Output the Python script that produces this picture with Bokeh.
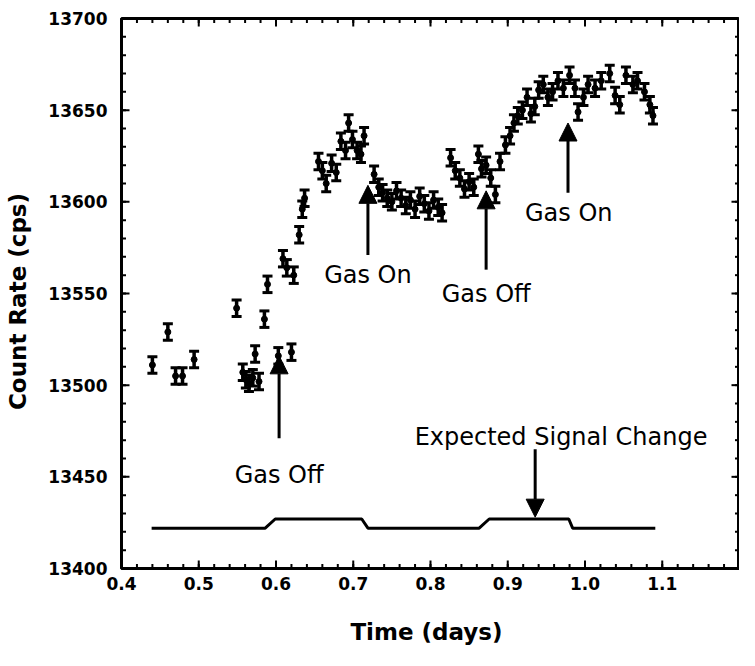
import numpy as np
from bokeh.plotting import figure
from bokeh.models import (Range1d, SingleIntervalTicker, NumeralTickFormatter,
                          Arrow, NormalHead, ColumnDataSource)
from bokeh.core.properties import value
from bokeh.embed import file_html
from bokeh.resources import INLINE

# ---------------- data ----------------
time_days = [0.440, 0.460, 0.470, 0.479, 0.494,
             0.549, 0.557, 0.561, 0.565, 0.570, 0.573, 0.578, 0.585, 0.589,
             0.603, 0.609, 0.614, 0.620, 0.623, 0.630, 0.634, 0.637,
             0.655, 0.660, 0.665, 0.672, 0.678, 0.684, 0.690, 0.694, 0.699,
             0.705, 0.710, 0.714, 0.727, 0.733, 0.738, 0.744, 0.750, 0.756,
             0.762, 0.768, 0.774, 0.780, 0.786, 0.792, 0.798, 0.804, 0.810, 0.815,
             0.826, 0.832, 0.838, 0.844, 0.850, 0.856, 0.862, 0.866, 0.872, 0.878,
             0.884, 0.890, 0.897, 0.903, 0.908, 0.913, 0.919, 0.925, 0.930, 0.935,
             0.940, 0.946, 0.952, 0.958, 0.965, 0.972, 0.980, 0.987, 0.991,
             0.998, 1.004, 1.013, 1.021, 1.032, 1.039, 1.045, 1.053, 1.062,
             1.068, 1.077, 1.084, 1.088]
count_rate = [13511, 13529, 13505, 13505, 13514,
              13542, 13507, 13503, 13501, 13504, 13517, 13502, 13536, 13555,
              13516, 13569, 13564, 13518, 13560, 13582, 13596, 13602,
              13622, 13617, 13610, 13621, 13616, 13633, 13628, 13643, 13634,
              13628, 13626, 13636, 13615, 13608, 13605, 13602, 13600, 13606,
              13602, 13598, 13601, 13596, 13603, 13599, 13595, 13601, 13597, 13594,
              13624, 13617, 13613, 13607, 13611, 13608, 13626, 13618, 13620, 13613,
              13604, 13622, 13631, 13636, 13643, 13647, 13650, 13657, 13648, 13652,
              13661, 13664, 13657, 13660, 13666, 13662, 13669, 13662, 13649,
              13657, 13664, 13662, 13666, 13670, 13658, 13653, 13669, 13664,
              13666, 13660, 13653, 13647]
count_err = 4.5

signal_x = [0.439, 0.586, 0.599, 0.711, 0.719, 0.863, 0.876, 0.979, 0.984, 1.091]
signal_y = [13422, 13422, 13427, 13427, 13422, 13422, 13427, 13427, 13422, 13422]

label_text = ["Gas Off", "Gas On", "Gas Off", "Gas On", "Expected Signal Change"]
label_x = [0.604, 0.719, 0.872, 0.979, 0.969]
label_y = [13451, 13560, 13550, 13594, 13472]

arrow_x = [0.604, 0.719, 0.872, 0.978, 0.9355]
arrow_y0 = [13471, 13571, 13563, 13605, 13465]
arrow_y1 = [13516, 13609, 13606, 13643, 13428]

X_MIN, X_MAX, X_STEP, X_MINOR = 0.4, 1.2, 0.1, 0.02
Y_MIN, Y_MAX, Y_STEP, Y_MINOR = 13400, 13700, 50, 10

# ---------------- figure ----------------
W, H = 739, 650
B_LEFT, B_RIGHT, B_TOP, B_BOTTOM = 121, 0, 18, 82
p = figure(width=W, height=H, x_range=Range1d(X_MIN, X_MAX), y_range=Range1d(Y_MIN, Y_MAX),
           output_backend="svg", toolbar_location=None,
           min_border_left=B_LEFT, min_border_right=B_RIGHT,
           min_border_top=B_TOP, min_border_bottom=B_BOTTOM)
p.grid.visible = False
p.outline_line_color = "black"
p.outline_line_width = 3
p.background_fill_color = "white"
p.border_fill_color = "white"

FONT = "DejaVu Sans"


def style_axis(ax):
    ax.axis_line_width = 3
    ax.axis_line_color = "black"
    ax.major_tick_line_color = None
    ax.minor_tick_line_color = None
    ax.major_tick_in = 0
    ax.major_tick_out = 0
    ax.minor_tick_in = 0
    ax.minor_tick_out = 0
    ax.major_label_text_font = FONT
    ax.major_label_text_font_style = "bold"
    ax.major_label_text_font_size = "17px"
    ax.major_label_text_color = "black"
    ax.axis_label_text_font = FONT
    ax.axis_label_text_font_style = "bold"
    ax.axis_label_text_font_size = "23px"
    ax.axis_label_text_color = "black"


xa = p.xaxis[0]
xa.ticker = SingleIntervalTicker(interval=X_STEP, num_minor_ticks=5)
xa.formatter = NumeralTickFormatter(format="0.0")
style_axis(xa)
xa.major_label_standoff = 8
xa.axis_label = "Time  (days)"
xa.axis_label_standoff = 26

ya = p.yaxis[0]
ya.ticker = SingleIntervalTicker(interval=Y_STEP, num_minor_ticks=5)
ya.formatter = NumeralTickFormatter(format="0")
style_axis(ya)
ya.major_label_standoff = 14
ya.axis_label = "Count  Rate  (cps)"
ya.axis_label_standoff = 14

# ---------------- inward ticks on all four sides ----------------
x_px_per_unit = (W - B_LEFT - B_RIGHT) / (X_MAX - X_MIN)
y_px_per_unit = (H - B_TOP - B_BOTTOM) / (Y_MAX - Y_MIN)
maj_len, min_len = 8, 4.5
xt_major = np.arange(X_MIN, X_MAX + 1e-9, X_STEP)
xt_minor = np.arange(X_MIN, X_MAX + 1e-9, X_MINOR)
yt_major = np.arange(Y_MIN, Y_MAX + 1e-9, Y_STEP)
yt_minor = np.arange(Y_MIN, Y_MAX + 1e-9, Y_MINOR)

for ticks, ln in ((xt_major, maj_len), (xt_minor, min_len)):
    d = ln / y_px_per_unit
    p.segment(x0=ticks, y0=Y_MIN, x1=ticks, y1=Y_MIN + d, line_color="black", line_width=2)
    p.segment(x0=ticks, y0=Y_MAX, x1=ticks, y1=Y_MAX - d, line_color="black", line_width=2)
for ticks, ln in ((yt_major, maj_len), (yt_minor, min_len)):
    d = ln / x_px_per_unit
    p.segment(x0=X_MIN, y0=ticks, x1=X_MIN + d, y1=ticks, line_color="black", line_width=2)
    p.segment(x0=X_MAX, y0=ticks, x1=X_MAX - d, y1=ticks, line_color="black", line_width=2)

# ---------------- data marks ----------------
tx = np.array(time_days)
cy = np.array(count_rate, dtype=float)
src = ColumnDataSource(dict(x=tx, y=cy, lo=cy - count_err, hi=cy + count_err))
p.segment(x0="x", y0="lo", x1="x", y1="hi", source=src, line_color="black", line_width=3.5)
p.scatter(x="x", y="lo", source=src, marker="dash", size=10, line_color="black", line_width=3)
p.scatter(x="x", y="hi", source=src, marker="dash", size=10, line_color="black", line_width=3)
p.scatter(x="x", y="y", source=src, marker="circle", size=6, fill_color="black", line_color="black")

# expected signal
p.line(signal_x, signal_y, line_color="black", line_width=3)

# arrows
asrc = ColumnDataSource(dict(x=arrow_x, y0=arrow_y0, y1=arrow_y1))
p.add_layout(Arrow(end=NormalHead(size=18, fill_color="black", line_color="black", line_width=1),
                   x_start="x", y_start="y0", x_end="x", y_end="y1", source=asrc,
                   line_color="black", line_width=3))

# annotation text
tsrc = ColumnDataSource(dict(x=label_x, y=label_y, t=label_text))
p.text(x="x", y="y", text="t", source=tsrc, text_font=value(FONT), text_font_size="24px",
       text_align="center", text_baseline="middle", text_color="black")

open("out.html", "w").write(file_html(p, INLINE))
